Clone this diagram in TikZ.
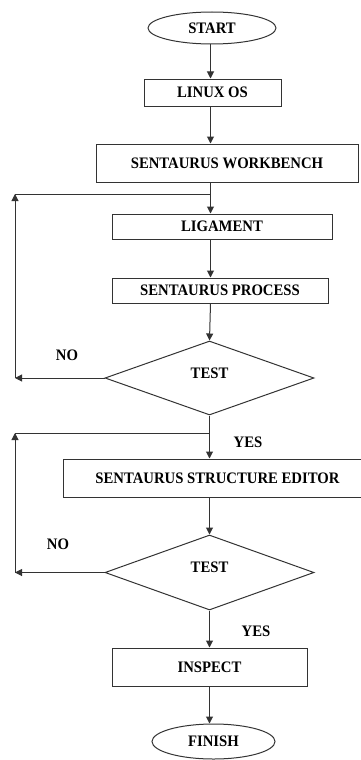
\documentclass[tikz,border=0pt]{standalone}
\usepackage{fontspec}
\newfontfamily\lbl{Liberation Serif}[FakeStretch=0.92]
\usetikzlibrary{shapes.geometric,arrows.meta}
\tikzset{
  every node/.style={font=\lbl\bfseries\fontsize{16}{18}\selectfont, inner sep=0pt},
  box/.style={draw=black!80, line width=1pt, rectangle},
  oval/.style={draw=black!80, line width=1pt, ellipse},
  dec/.style={draw=black!80, line width=1pt, diamond},
  conn/.style={line width=1pt, draw=black!80},
  arr/.style={conn, -{Triangle[length=7pt,width=7pt]}},
}
\begin{document}
\begin{tikzpicture}[x=1pt,y=-1pt]
\useasboundingbox (0,0) rectangle (361,760);
\coordinate (spine) at (210.5,0);
\coordinate (lft) at (15,0);
% nodes
\node[oval, minimum width=128pt, minimum height=32pt] (start) at (212,28) {START};
\node[box, minimum width=137pt, minimum height=27pt] (linux) at (212.5,92.5) {LINUX OS};
\node[box, minimum width=262pt, minimum height=38pt] (wb) at (227,163) {SENTAURUS WORKBENCH};
\node[box, minimum width=220pt, minimum height=25pt] (lig) at (222,226.5) {LIGAMENT};
\node[box, minimum width=216pt, minimum height=25pt] (proc) at (220,290.5) {SENTAURUS PROCESS};
\node[dec, minimum width=209pt, minimum height=74pt] (t1) at (209.5,378) {};
\node (t1txt) at (209.5,373) {TEST};
\node[box, minimum width=299pt, minimum height=38pt] (sse) at (212.5,478) {};
\node (ssetxt) at (217.5,478) {SENTAURUS STRUCTURE EDITOR};
\node[dec, minimum width=209pt, minimum height=75pt] (t2) at (209.5,572.5) {};
\node (t2txt) at (209.5,567) {TEST};
\node[box, minimum width=195pt, minimum height=38pt] (insp) at (209.5,667) {INSPECT};
\node[oval, minimum width=123pt, minimum height=35pt] (fin) at (213.5,741.5) {FINISH};
% labels
\node (no1) at (67,355) {NO};
\node (yes1) at (248,442) {YES};
\node (no2) at (58,544) {NO};
\node (yes2) at (256,631) {YES};
% connectors
\draw[arr] (start.south -| spine) -- (linux.north -| spine);
\draw[arr] (linux.south -| spine) -- (wb.north -| spine);
\draw[arr] (wb.south -| spine) -- (lig.north -| spine);
\draw[arr] (lig.south -| spine) -- (proc.north -| spine);
\draw[arr] (proc.south -| spine) -- (t1.north);
\draw[arr] (t1.south) -- (sse.north -| t1.south);
\draw[arr] (sse.south -| t1.south) -- (t2.north);
\draw[arr] (t2.south) -- (insp.north -| t2.south);
\draw[arr] (insp.south -| t2.south) -- (fin.north -| t2.south);
% NO loop 1
\coordinate (l1b) at (lft |- t1.west);
\coordinate (l1t) at (15,194);
\coordinate (j1) at (spine |- l1t);
\draw[arr] (t1.west) -- (l1b);
\draw[arr] (l1b) -- (l1t);
\draw[conn] (l1t) -- (j1);
% NO loop 2
\coordinate (l2b) at (lft |- t2.west);
\coordinate (l2t) at (15,433);
\coordinate (j2) at (t1.south |- l2t);
\draw[arr] (t2.west) -- (l2b);
\draw[arr] (l2b) -- (l2t);
\draw[conn] (l2t) -- (j2);
\end{tikzpicture}
\end{document}
